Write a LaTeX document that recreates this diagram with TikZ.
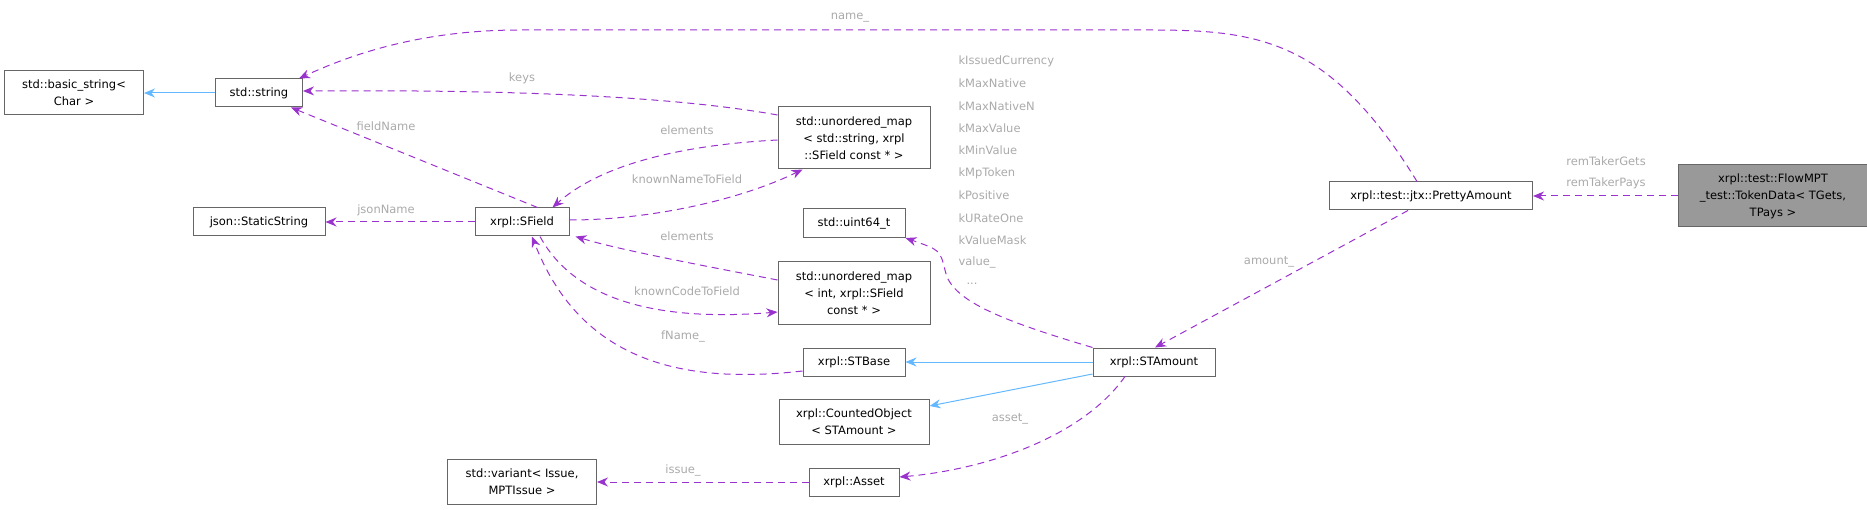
\documentclass[tikz,border=0pt]{standalone}
\usepackage{fontspec}
\setmainfont{DejaVu Sans}
\usetikzlibrary{arrows.meta}
\definecolor{pur}{HTML}{9A32CD}
\definecolor{blu}{HTML}{63B8FF}
\definecolor{lab}{HTML}{AAAAAA}
\definecolor{brd}{HTML}{666666}
\begin{document}
\begin{tikzpicture}[x=1pt,y=-1pt,
  box/.style={draw=brd,line width=1pt,fill=white,align=center,font=\fontsize{11.5}{17}\selectfont,inner sep=2pt},
  use/.style={pur,dash pattern=on 7pt off 5pt,line width=1pt,-{Stealth[length=11pt,width=9pt]}},
  inh/.style={blu,line width=1pt,-{Stealth[length=11pt,width=9pt]}},
  lb/.style={lab,font=\fontsize{11.5}{14}\selectfont}]
\useasboundingbox (0,0) rectangle (1867,510);
\node[box,minimum width=139pt,minimum height=44pt] (bs) at (74,93) {std::basic\_string<\\Char >};
\node[box,minimum width=87pt,minimum height=28pt] (str) at (259,93) {std::string};
\node[box,minimum width=132pt,minimum height=28pt] (js) at (259,222) {json::StaticString};
\node[box,minimum width=94pt,minimum height=28pt] (sf) at (522,222) {xrpl::SField};
\node[box,minimum width=152pt,minimum height=62pt] (um1) at (854,138) {std::unordered\_map\\< std::string, xrpl\\::SField const * >};
\node[box,minimum width=102pt,minimum height=29pt] (u64) at (854,223) {std::uint64\_t};
\node[box,minimum width=152pt,minimum height=62pt] (um2) at (854,293) {std::unordered\_map\\< int, xrpl::SField\\const * >};
\node[box,minimum width=102pt,minimum height=28pt] (stb) at (854,362) {xrpl::STBase};
\node[box,minimum width=150pt,minimum height=45pt] (co) at (854,422) {xrpl::CountedObject\\< STAmount >};
\node[box,minimum width=149pt,minimum height=45pt] (var) at (522,482) {std::variant< Issue,\\MPTIssue >};
\node[box,minimum width=90pt,minimum height=28pt] (as) at (854,482) {xrpl::Asset};
\node[box,minimum width=122pt,minimum height=28pt] (sta) at (1154,362) {xrpl::STAmount};
\node[box,minimum width=203pt,minimum height=28pt] (pa) at (1431,196) {xrpl::test::jtx::PrettyAmount};
\node[box,fill={rgb,255:red,153;green,153;blue,153},minimum width=189pt,minimum height=62pt] (td) at (1773,196) {xrpl::test::FlowMPT\\\_test::TokenData< TGets,\\TPays >};
% inheritance
\draw[inh] (str) -- (bs);
\draw[inh] (sta) -- (stb);
\draw[inh] (sta.west |- 0,374) -- (co.east |- 0,406);
% usage
\draw[use] ([xshift=-14pt]pa.north) .. controls (1330,40) and (1260,30) .. (1150,30) -- (520,30) .. controls (420,30) and (350,55) .. ([xshift=-4pt]str.north east);
\node[lb] at (850,18) {name\_};
\draw[use] (um1.west |- 0,115) .. controls (650,92) and (450,90) .. (str.east |- 0,91);
\node[lb] at (522,78) {keys};
\draw[use] ([xshift=-32pt]sf.north east) -- ([xshift=-12pt]str.south east);
\node[lb] at (386,126) {fieldName};
\draw[use] (um1.west |- 0,140) .. controls (680,145) and (600,165) .. ([xshift=-17pt]sf.north east);
\node[lb] at (687,130) {elements};
\draw[use] (sf.east |- 0,220) .. controls (650,220) and (740,200) .. ([xshift=25pt]um1.south west);
\node[lb] at (687,179) {knownNameToField};
\draw[use] (sf) -- (js);
\node[lb] at (386,210) {jsonName};
\draw[use] (um2.west |- 0,280) .. controls (700,265) and (620,250) .. ([xshift=6pt]sf.south east);
\node[lb] at (687,236) {elements};
\draw[use] ([xshift=18pt]sf.south) .. controls (580,310) and (680,320) .. (um2.west |- 0,312);
\node[lb] at (687,291) {knownCodeToField};
\draw[use] (stb.west |- 0,371) .. controls (680,385) and (580,360) .. ([xshift=10pt]sf.south);
\node[lb] at (683,336) {fName\_};
\draw[use] (sta.north west) .. controls (1000,320) and (950,300) .. (945,270) .. controls (940,250) .. (u64.south east);
\foreach \t [count=\i from 0] in {kIssuedCurrency,kMaxNative,kMaxNativeN,kMaxValue,kMinValue,kMpToken,kPositive,kURateOne,kValueMask,value\_}
  \node[lb,anchor=west] (l\i) at (955,61+22.4*\i) {\t};
\node[lb] (l10) at (972,284) {...};
\draw[use] ([xshift=-29pt]sta.south) .. controls (1080,440) and (980,470) .. (as.east |- 0,477);
\node[lb] at (1010,419) {asset\_};
\draw[use] (as) -- (var);
\node[lb] at (683,470) {issue\_};
\draw[use] ([xshift=-125pt]pa.south east) -- ([xshift=1pt]sta.north);
\node[lb] at (1269,262) {amount\_};
\draw[use] (td) -- (pa);
\node[lb] at (1606,161) {remTakerGets};
\node[lb] at (1606,183) {remTakerPays};
\end{tikzpicture}
\end{document}
